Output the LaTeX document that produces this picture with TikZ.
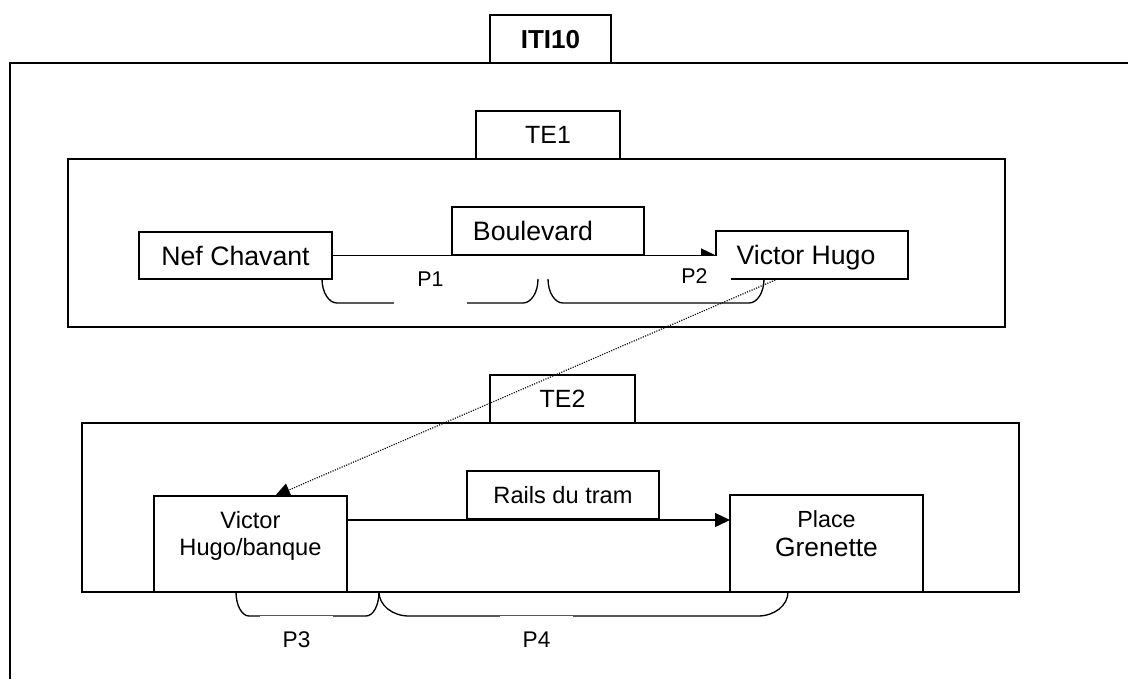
\documentclass[tikz,border=0pt]{standalone}
\usepackage{fontspec}
\setmainfont{Liberation Sans}
\usetikzlibrary{arrows.meta,calc}
\newcommand\fsz[1]{\fontsize{#1}{#1}\selectfont}
\begin{document}
\begin{tikzpicture}[x=0.75pt,y=-0.75pt,line width=1pt,
  box/.style 2 args={draw, minimum width=#1*0.75pt, minimum height=#2*0.75pt, inner sep=0pt, outer sep=0pt, text depth=0pt},
  lbl/.style={fill=white, minimum width=54.75pt, inner sep=0pt, outer sep=0pt, text depth=0pt},
  txt/.style={inner sep=0pt, anchor=base},
  conn/.style={-{Triangle[length=11.25pt,width=10.5pt]}},
  dotconn/.style={conn, line width=0.85pt, dash pattern=on 0.85pt off 1pt},
  brace/.style={line width=1pt}]
\useasboundingbox (0,0) rectangle (1128,679);
% outer frame (ITI10)
\draw (1128,63) -- (10,63) -- (10,679);
% containers
\node[box={937}{168}] (te1) at (536.5,243) {};
\node[box={937}{169}] (te2) at (550.5,507.5) {};
% tabs
\node[box={121}{48}, font=\fsz{19.5pt}\bfseries] (iti) at (550.5,39) {ITI10};
\node[box={144}{48}, font=\fsz{18.7pt}] (te1tab) at (548,135) {TE1};
\node[box={145}{48}, font=\fsz{18.7pt}] (te2tab) at (562.5,399) {TE2};
% stops
\node[box={193}{47}, font=\fsz{20pt}] (nc) at (235.5,255.5) {Nef Chavant};
\node[box={192}{48}, font=\fsz{20pt}] (bd) at (548,231) {Boulevard\hspace*{22.5pt}};
\node[box={192}{48}, font=\fsz{20pt}] (vh) at (812,255) {Victor Hugo\hspace*{9pt}};
\node[box={193}{96}] (vhb) at (250.5,544) {};
\node[box={192}{48}, font=\fsz{17.7pt}] (rt) at (563,495) {Rails du tram};
\node[box={193}{97}] (pg) at (826.5,543.5) {};
\node[txt, font=\fsz{17.75pt}] (vhb1) at (250.5,528) {Victor};
\node[txt, font=\fsz{17.75pt}] (vhb2) at (250.5,555) {Hugo/banque};
\node[txt, font=\fsz{17.5pt}] (pg1) at (826.5,527.7) {Place};
\node[txt, font=\fsz{19.8pt}] (pg2) at (826.5,556.7) {Grenette};
% connectors
\draw[conn] (nc.east) -- (nc.east -| vh.west);
\coordinate (ra) at ($(vhb.north east)!0.25!(vhb.south east)$);
\draw[conn] (ra) -- (ra -| pg.west);
% brackets
\draw[brace] (322,279) .. controls (322,292.25) and (328.7,303) .. (337,303) -- (523,303) .. controls (531.3,303) and (538,292.25) .. (538,279);
\draw[brace] (548,279) .. controls (548,292.25) and (554.7,303) .. (563,303) -- (749,303) .. controls (757.3,303) and (764,292.25) .. (764,279);
\draw[brace] (236,592) .. controls (236,605.25) and (241.8,616) .. (249,616) -- (366,616) .. controls (373.2,616) and (379,605.25) .. (379,592);
\draw[brace] (379,592) .. controls (379,605.25) and (392.4,616) .. (409,616) -- (758,616) .. controls (774.6,616) and (788,605.25) .. (788,592);
% bracket labels (white boxes whose edges sit on the lines)
\node[lbl, minimum height=36pt, font=\fsz{16pt}] (p1) at (430.5,279.6) {P1};
\node[lbl, minimum height=30pt, font=\fsz{16pt}] (p2) at (694.5,275.6) {P2};
\node[lbl, minimum height=36pt, font=\fsz{17pt}] (p3) at (296.5,640) {P3};
\node[lbl, minimum height=36pt, font=\fsz{17pt}] (p4) at (536.5,640) {P4};
% dotted link between the two Victor Hugo stops
\draw[dotconn] ($(vh.south west)!0.32!(vh.south east)$) -- ($(vhb.north west)!0.627!(vhb.north east)$);
\end{tikzpicture}
\end{document}
